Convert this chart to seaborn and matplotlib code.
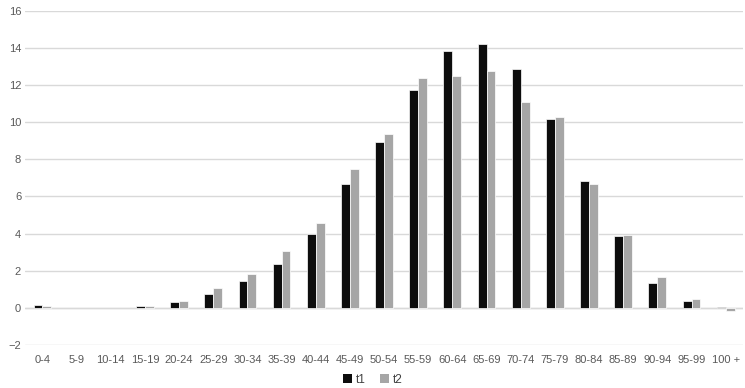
import pandas as pd
import seaborn as sns
import matplotlib.pyplot as plt
from matplotlib.patches import Patch

# Age groups and the two series
age_groups = ['0-4', '5-9', '10-14', '15-19', '20-24', '25-29', '30-34', '35-39',
              '40-44', '45-49', '50-54', '55-59', '60-64', '65-69', '70-74',
              '75-79', '80-84', '85-89', '90-94', '95-99', '100 +']
t1 = [0.15, 0.0, 0.0, 0.08, 0.32, 0.75, 1.45, 2.35, 4.0, 6.65, 8.95, 11.75,
      13.85, 14.2, 12.85, 10.2, 6.85, 3.85, 1.35, 0.35, 0.05]
t2 = [0.08, 0.0, 0.0, 0.08, 0.38, 1.05, 1.8, 3.05, 4.55, 7.5, 9.35, 12.4,
      12.5, 12.75, 11.1, 10.3, 6.65, 3.95, 1.65, 0.45, -0.18]
series_names = ['t1', 't2']
y_ticks = list(range(-2, 17, 2))

df = pd.DataFrame({
    'Age': age_groups * 2,
    'Series': ['t1'] * len(t1) + ['t2'] * len(t2),
    'Value': t1 + t2,
})

colors = {'t1': '#0d0d0d', 't2': '#a6a6a6'}
text_color = '#595959'

sns.set_theme(style='white')
plt.rcParams['font.family'] = ['Liberation Sans', 'DejaVu Sans']

fig = plt.figure(figsize=(7.45, 3.88), dpi=100)
ax = fig.add_axes([0.034, 0.111, 0.963, 0.861])

sns.barplot(data=df, x='Age', y='Value', hue='Series', palette=colors,
            width=0.52, edgecolor='white', linewidth=0.5, ax=ax)

# no white outline on empty bars, so the zero line stays clean
for bar in ax.patches:
    if bar.get_height() == 0:
        bar.set_linewidth(0)

ax.set_ylim(-2, 16)
ax.set_yticks(y_ticks)
ax.set_xlim(-0.5, len(age_groups) - 0.5)
ax.yaxis.grid(True, color='#d9d9d9', linewidth=1)
ax.set_axisbelow(True)
ax.axhline(0, color='#d9d9d9', linewidth=1, zorder=0.5)
for s in ax.spines.values():
    s.set_visible(False)
ax.tick_params(axis='both', length=0, labelsize=8, colors=text_color, pad=3)
ax.tick_params(axis='x', pad=7)
ax.set_xlabel('')
ax.set_ylabel('')
ax.get_legend().remove()

handles = [Patch(facecolor=colors[n], edgecolor='none', label=n) for n in series_names]
fig.legend(handles=handles, loc='lower center', ncol=2, frameon=False,
           bbox_to_anchor=(0.5, -0.022), fontsize=8.5, labelcolor='#404040',
           handlelength=0.8, handleheight=0.8, handletextpad=0.3, columnspacing=1.2)

fig.savefig('out.png', dpi=100)
